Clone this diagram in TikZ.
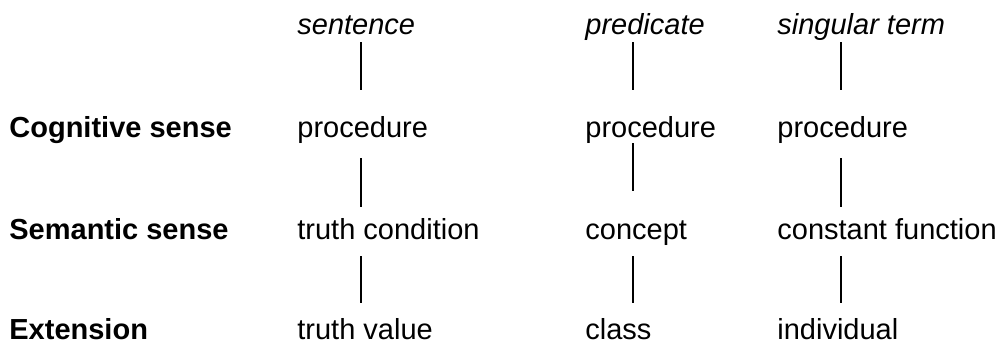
\documentclass[tikz,border=0pt]{standalone}
\usepackage{fontspec}
\setmainfont{Liberation Sans}
\usetikzlibrary{positioning}
\tikzset{
    level/.style =  {anchor=base west,
                    inner sep=0pt,
                    text=black,
                    font=\fontsize{14.5}{17}\selectfont\bfseries},
    kind/.style =   {anchor=base west,
                    inner sep=0pt,
                    text=black,
                    font=\fontsize{14.5}{17}\selectfont\itshape},
    entry/.style =  {anchor=base west,
                    inner sep=0pt,
                    text=black,
                    font=\fontsize{14.5}{17}\selectfont},
    link/.style =   {draw=black,
                    line width=0.75pt}}

\begin{document}
\begin{tikzpicture}[x=0.5pt,y=-0.5pt]
                \useasboundingbox (0,0) rectangle (1000,343);
                % row labels
                \node[level]    (cog)   at (9,137)      {Cognitive sense};
                \node[level]    (sem)   at (9,239)      {Semantic sense};
                \node[level]    (ext)   at (9,339)      {Extension};
                % sentence
                \node[kind]     (sen)   at (297,34)     {sentence};
                \node[entry]    (senC)  at (297,137)    {procedure};
                \node[entry]    (senS)  at (297,239)    {truth condition};
                \node[entry]    (senE)  at (297,339)    {truth value};
                % predicate
                \node[kind]     (pre)   at (585,34)     {predicate};
                \node[entry]    (preC)  at (585,137)    {procedure};
                \node[entry]    (preS)  at (585,239)    {concept};
                \node[entry]    (preE)  at (585,339)    {class};
                % singular term
                \node[kind]     (sin)   at (777,34)     {singular term};
                \node[entry]    (sinC)  at (777,137)    {procedure};
                \node[entry]    (sinS)  at (777,239)    {constant function};
                \node[entry]    (sinE)  at (777,339)    {individual};
                % line ends
                \coordinate (sen0) at (361,42);  \coordinate (sen1) at (361,90);
                \coordinate (sen2) at (361,158); \coordinate (sen3) at (361,207);
                \coordinate (sen4) at (361,256); \coordinate (sen5) at (361,303);
                \coordinate (pre0) at (633,42);  \coordinate (pre1) at (633,90);
                \coordinate (pre2) at (633,143); \coordinate (pre3) at (633,191);
                \coordinate (pre4) at (633,256); \coordinate (pre5) at (633,303);
                \coordinate (sin0) at (841,42);  \coordinate (sin1) at (841,90);
                \coordinate (sin2) at (841,158); \coordinate (sin3) at (841,207);
                \coordinate (sin4) at (841,256); \coordinate (sin5) at (841,303);
                \path [link]    (sen0) edge (sen1)  (sen2) edge (sen3)  (sen4) edge (sen5)
                                (pre0) edge (pre1)  (pre2) edge (pre3)  (pre4) edge (pre5)
                                (sin0) edge (sin1)  (sin2) edge (sin3)  (sin4) edge (sin5);
        \end{tikzpicture}
\end{document}
